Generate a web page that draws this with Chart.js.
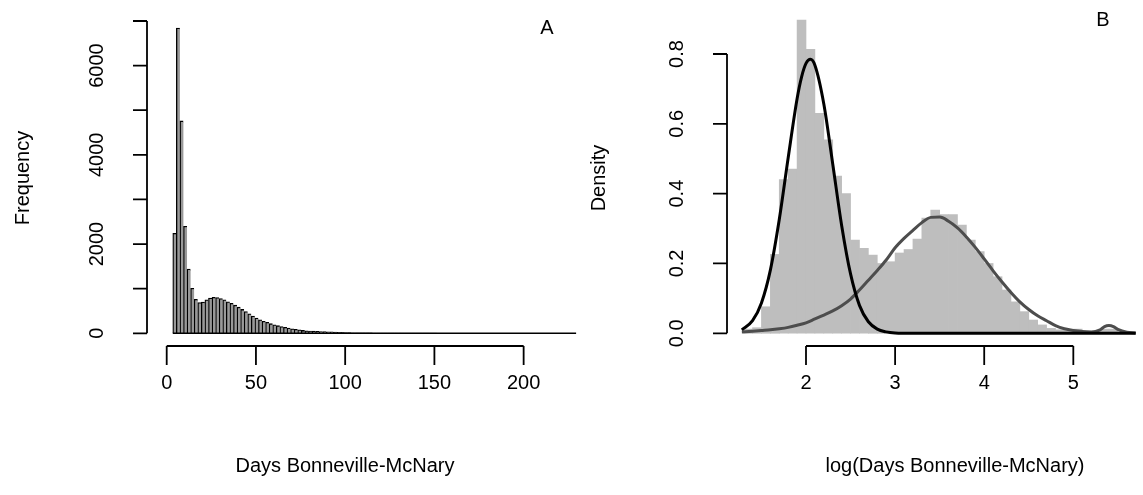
<!DOCTYPE html>
<html>
<head>
<meta charset="utf-8">
<script src="https://cdn.jsdelivr.net/npm/chart.js@4.4.1/dist/chart.umd.min.js"></script>
<style>
  body { margin: 0; background: #fff; }
  #wrap { position: relative; width: 1143px; height: 495px; }
  canvas { position: absolute; left: 0; top: 0; }
</style>
</head>
<body>
<div id="wrap">
  <canvas id="chartA" width="1143" height="495"></canvas>
  <canvas id="chartB" width="1143" height="495"></canvas>
</div>
<script>
// ---- panel A : days, 2-day bins ----
var dayBins = [4.4, 6.4, 8.4, 10.4, 12.4, 14.4, 16.4, 18.4, 20.4, 22.4,
  24.4, 26.4, 28.4, 30.4, 32.4, 34.4, 36.4, 38.4, 40.4, 42.4,
  44.4, 46.4, 48.4, 50.4, 52.4, 54.4, 56.4, 58.4, 60.4, 62.4,
  64.4, 66.4, 68.4, 70.4, 72.4, 74.4, 76.4, 78.4, 80.4, 82.4,
  84.4, 86.4, 88.4, 90.4, 92.4, 94.4, 96.4, 98.4, 100.4, 102.4,
  104.4, 106.4, 108.4, 110.4, 112.4, 114.4, 116.4, 118.4, 120.4, 122.4,
  124.4, 126.4, 128.4, 130.4, 132.4, 134.4, 136.4, 138.4, 140.4, 142.4,
  144.4, 146.4, 148.4, 150.4, 152.4, 154.4, 156.4, 158.4, 160.4, 162.4,
  164.4, 166.4, 168.4, 170.4, 172.4, 174.4, 176.4, 178.4, 180.4, 182.4,
  184.4, 186.4, 188.4, 190.4, 192.4, 194.4, 196.4, 198.4, 200.4, 202.4,
  204.4, 206.4, 208.4, 210.4, 212.4, 214.4, 216.4, 218.4, 220.4, 222.4,
  224.4, 226.4, 228.4];
var dayCounts = [2240, 6840, 4760, 2400, 1440, 1010, 760, 690, 700, 750,
  790, 805, 800, 780, 750, 705, 670, 630, 585, 535,
  485, 435, 385, 340, 300, 270, 245, 215, 190, 170,
  150, 135, 118, 100, 88, 76, 64, 57, 52, 47,
  44, 40, 37, 34, 30, 26, 22, 19, 16, 14,
  12, 11, 10, 9, 8, 8, 7, 6, 6, 5,
  5, 4, 4, 4, 3, 3, 3, 3, 2, 2,
  2, 2, 2, 2, 1, 1, 1, 1, 1, 1,
  1, 1, 1, 1, 1, 1, 1, 0, 0, 1,
  0, 0, 0, 0, 0, 0, 0, 0, 0, 0,
  0, 0, 0, 0, 0, 0, 0, 0, 0, 0,
  0, 0, 0];
var dayBreakEnds = [3.4, 229.4];
var dayTicks = [0, 50, 100, 150, 200];
var dayTickLabels = ['0', '50', '100', '150', '200'];
var freqTicks = [0, 1000, 2000, 3000, 4000, 5000, 6000, 7000];
var freqTickLabels = ['0', '', '2000', '', '4000', '', '6000', ''];

// ---- panel B : log(days), 0.1 bins + two fitted components ----
var logBins = [1.35, 1.45, 1.55, 1.65, 1.75, 1.85, 1.95, 2.05, 2.15, 2.25,
  2.35, 2.45, 2.55, 2.65, 2.75, 2.85, 2.95, 3.05, 3.15, 3.25,
  3.35, 3.45, 3.55, 3.65, 3.75, 3.85, 3.95, 4.05, 4.15, 4.25,
  4.35, 4.45, 4.55, 4.65, 4.75, 4.85, 4.95, 5.05, 5.15, 5.25,
  5.35, 5.45, 5.55, 5.65];
var logDensity = [0.012, 0.016, 0.076, 0.226, 0.44, 0.47, 0.897, 0.813, 0.63, 0.554,
  0.45, 0.40, 0.267, 0.243, 0.224, 0.20, 0.205, 0.23, 0.24, 0.27,
  0.33, 0.353, 0.34, 0.34, 0.31, 0.267, 0.234, 0.20, 0.162, 0.124,
  0.09, 0.062, 0.038, 0.024, 0.014, 0.01, 0.008, 0.012, 0.006, 0.005,
  0.012, 0.012, 0.004, 0.002];

var shortX = [1.28, 1.4, 1.5, 1.6, 1.7, 1.8, 1.9, 1.95, 2.0, 2.05, 2.1, 2.2, 2.3, 2.4, 2.5, 2.6, 2.7, 2.8, 2.9, 3.0, 3.2, 5.7];
var shortY = [0.01, 0.036, 0.087, 0.181, 0.326, 0.503, 0.672, 0.734, 0.773, 0.785, 0.768, 0.657, 0.485, 0.309, 0.170, 0.080, 0.033, 0.012, 0.004, 0.001, 0, 0];

var longX = [1.28, 1.4, 1.5, 1.6, 1.7, 1.8, 1.9, 2.0, 2.1, 2.2, 2.3, 2.4, 2.5, 2.6, 2.7, 2.8, 2.9, 3.0,
  3.1, 3.2, 3.3, 3.4, 3.5, 3.6, 3.7, 3.8, 3.9, 4.0, 4.1, 4.2, 4.3, 4.4, 4.5, 4.6, 4.7, 4.8, 4.9,
  5.0, 5.1, 5.2, 5.3, 5.35, 5.4, 5.45, 5.5, 5.6, 5.7];
var longY = [0.004, 0.006, 0.008, 0.010, 0.013, 0.017, 0.023, 0.030, 0.041, 0.052, 0.064, 0.079, 0.098, 0.124, 0.152, 0.18, 0.21, 0.245,
  0.272, 0.295, 0.317, 0.332, 0.333, 0.321, 0.302, 0.276, 0.246, 0.213, 0.179, 0.147, 0.117, 0.090, 0.068, 0.050, 0.036, 0.022, 0.013,
  0.008, 0.005, 0.004, 0.010, 0.019, 0.022, 0.019, 0.011, 0.003, 0.001];

var logTicks = [2, 3, 4, 5];
var logTickLabels = ['2', '3', '4', '5'];
var densTicks = [0, 0.2, 0.4, 0.6, 0.8];
var densTickLabels = ['0.0', '0.2', '0.4', '0.6', '0.8'];

function pts(xs, ys) {
  return xs.map(function (x, i) { return { x: x, y: ys[i] }; });
}

// R style detached axes, drawn from the chart's own scales
var rAxes = {
  id: 'rAxes',
  afterDraw: function (chart, args, o) {
    var ctx = chart.ctx, xs = chart.scales.x, ys = chart.scales.y, a = chart.chartArea;
    ctx.save();
    ctx.strokeStyle = '#000';
    ctx.fillStyle = '#000';
    ctx.lineWidth = 1.8;
    ctx.font = '20px "Liberation Sans", Arial, sans-serif';

    // x axis
    ctx.beginPath();
    ctx.moveTo(xs.getPixelForValue(o.xTicks[0]), a.bottom);
    ctx.lineTo(xs.getPixelForValue(o.xTicks[o.xTicks.length - 1]), a.bottom);
    o.xTicks.forEach(function (t) {
      var p = xs.getPixelForValue(t);
      ctx.moveTo(p, a.bottom);
      ctx.lineTo(p, a.bottom + 19);
    });
    // y axis
    ctx.moveTo(a.left, ys.getPixelForValue(o.yTicks[0]));
    ctx.lineTo(a.left, ys.getPixelForValue(o.yTicks[o.yTicks.length - 1]));
    o.yTicks.forEach(function (t) {
      var p = ys.getPixelForValue(t);
      ctx.moveTo(a.left, p);
      ctx.lineTo(a.left - 14, p);
    });
    ctx.stroke();

    ctx.textAlign = 'center';
    ctx.textBaseline = 'middle';
    o.xTicks.forEach(function (t, i) {
      ctx.fillText(o.xLabels[i], xs.getPixelForValue(t), 383);
    });
    o.yTicks.forEach(function (t, i) {
      if (!o.yLabels[i]) return;
      ctx.save();
      ctx.translate(a.left - 50, ys.getPixelForValue(t));
      ctx.rotate(-Math.PI / 2);
      ctx.fillText(o.yLabels[i], 0, 0);
      ctx.restore();
    });

    // titles
    ctx.fillText(o.xTitle, o.xTitleX, 466);
    ctx.save();
    ctx.translate(o.yTitleX, 178);
    ctx.rotate(-Math.PI / 2);
    ctx.fillText(o.yTitle, 0, 0);
    ctx.restore();
    ctx.fillText(o.letter, o.letterX, o.letterY);
    ctx.restore();
  }
};

new Chart(document.getElementById('chartA'), {
  type: 'bar',
  data: {
    datasets: [{
      type: 'line',
      data: pts(dayBreakEnds, [0, 0]),
      borderColor: '#000',
      borderWidth: 1.5,
      pointRadius: 0,
      order: 1
    }, {
      data: pts(dayBins, dayCounts),
      backgroundColor: '#999999',
      borderColor: '#000',
      borderWidth: { top: 1.3, left: 1.3, right: 0, bottom: 0 },
      borderSkipped: false,
      barPercentage: 1,
      categoryPercentage: 1,
      order: 2
    }]
  },
  plugins: [rAxes],
  options: {
    responsive: false,
    animation: false,
    layout: { padding: { left: 147, right: 566, top: 21, bottom: 149 } },
    scales: {
      x: { type: 'linear', offset: false, min: -11.04, max: 229.9, display: false },
      y: { min: -285, max: 7000, display: false }
    },
    plugins: {
      legend: { display: false },
      tooltip: { enabled: false },
      rAxes: {
        xTicks: dayTicks, xLabels: dayTickLabels,
        yTicks: freqTicks, yLabels: freqTickLabels,
        xTitle: 'Days Bonneville-McNary', xTitleX: 345,
        yTitle: 'Frequency', yTitleX: 23,
        letter: 'A', letterX: 547, letterY: 28
      }
    }
  }
});

new Chart(document.getElementById('chartB'), {
  type: 'bar',
  data: {
    datasets: [{
      type: 'line',
      data: pts(shortX, shortY),
      borderColor: '#000',
      borderWidth: 3,
      pointRadius: 0,
      cubicInterpolationMode: 'monotone',
      order: 1
    }, {
      type: 'line',
      data: pts(longX, longY),
      borderColor: '#4d4d4d',
      borderWidth: 3,
      pointRadius: 0,
      cubicInterpolationMode: 'monotone',
      order: 2
    }, {
      data: pts(logBins, logDensity),
      backgroundColor: '#bebebe',
      borderWidth: 0,
      barPercentage: 1,
      categoryPercentage: 1,
      order: 3
    }]
  },
  plugins: [rAxes],
  options: {
    responsive: false,
    animation: false,
    layout: { padding: { left: 727, right: 0, top: 10, bottom: 149 } },
    scales: {
      x: { type: 'linear', offset: false, min: 1.1134, max: 5.782, display: false },
      y: { min: -0.0364, max: 0.926, display: false }
    },
    plugins: {
      legend: { display: false },
      tooltip: { enabled: false },
      rAxes: {
        xTicks: logTicks, xLabels: logTickLabels,
        yTicks: densTicks, yLabels: densTickLabels,
        xTitle: 'log(Days Bonneville-McNary)', xTitleX: 955,
        yTitle: 'Density', yTitleX: 599,
        letter: 'B', letterX: 1103, letterY: 20
      }
    }
  }
});
</script>
</body>
</html>
